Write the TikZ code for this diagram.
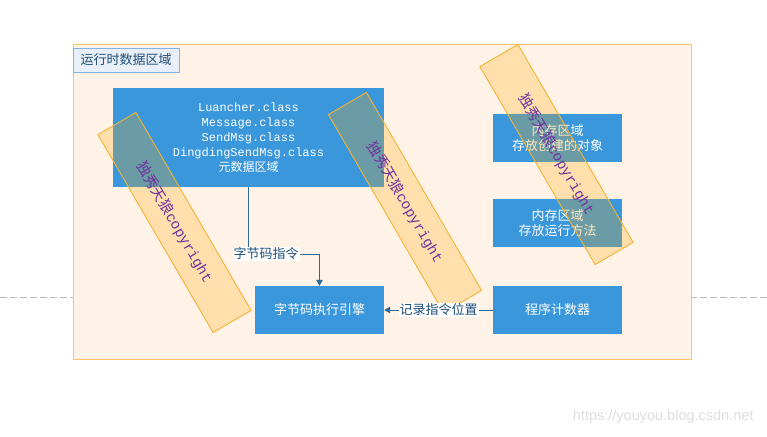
\documentclass[tikz,border=0pt]{standalone}
\usepackage{fontspec}
\setmainfont{Noto Sans CJK SC}
\setmonofont{Liberation Mono}
\newfontfamily\urlfont{Liberation Sans}
\usetikzlibrary{arrows.meta}
\definecolor{areafill}{HTML}{FFF2E6}
\definecolor{areadraw}{HTML}{FFC266}
\definecolor{boxblue}{HTML}{3A97DB}
\definecolor{titlefill}{HTML}{E8EFF8}
\definecolor{titledraw}{HTML}{7FB2E5}
\definecolor{darkblue}{HTML}{1F4E79}
\definecolor{linkblue}{HTML}{2B6A9B}
\definecolor{wmfill}{HTML}{FFAA00}
\definecolor{wmdraw}{HTML}{F5B335}
\definecolor{wmtext}{HTML}{7030A0}
\begin{document}
\begin{tikzpicture}[x=1pt,y=-1pt,
  area/.style={fill=areafill,draw=areadraw,line width=0.9pt,minimum width=618pt,minimum height=315pt,inner sep=0pt},
  titlebox/.style={fill=titlefill,draw=titledraw,line width=0.9pt,minimum width=106pt,minimum height=24pt,inner sep=0pt,text=darkblue,font=\fontsize{13}{15}\selectfont},
  bluebox/.style={fill=boxblue,text=white,minimum width=129pt,minimum height=48pt,inner sep=0pt,align=center,font=\fontsize{13}{15}\selectfont},
  conn/.style={draw=linkblue,line width=1pt,-{Triangle[length=6pt,width=6.5pt]}},
  edgelabel/.style={fill=white,text=darkblue,inner sep=1pt,font=\fontsize{13}{15}\selectfont},
  wmark/.style={fill=wmfill,fill opacity=0.25,draw=wmdraw,draw opacity=1,line width=0.9pt,minimum width=229pt,minimum height=44pt,inner sep=0pt,rotate=-59.8},
  wmtxt/.style={text=wmtext,rotate=-59.8,inner sep=0pt,font=\fontsize{14.5}{16}\selectfont}
]
\fill[white] (0,0) rectangle (767,436);
\useasboundingbox (0,0) rectangle (767,436);
\draw[draw=black!27,line width=0.8pt,dash pattern=on 7pt off 3pt] (0,297) -- (767,297);
\node[area] (area) at (382,201.5) {};
\node[titlebox] (title) at (126,60) {运行时数据区域};
\node[bluebox,minimum width=271pt,minimum height=99pt,font=\fontsize{12}{15}\selectfont] (meta) at (248.5,137.5)
  {\ttfamily Luancher.class\\\ttfamily Message.class\\\ttfamily SendMsg.class\\\ttfamily DingdingSendMsg.class\\元数据区域};
\node[bluebox] (obj) at (557.5,138) {内存区域\\存放创建的对象};
\node[bluebox] (meth) at (557.5,223) {内存区域\\存放运行方法};
\node[bluebox] (eng) at (319.5,310) {字节码执行引擎};
\node[bluebox] (pc) at (557.5,310) {程序计数器};
\coordinate (bend) at (248.5,254);
\draw[conn] (meta.south) -- (bend) -| (eng.north);
\draw[conn] (pc.west) -- (eng.east);
\node[wmark] (wm1) at (174.5,222.5) {};
\node[wmtxt] (wt1) at (wm1.center) {独秀天狼{\ttfamily copyright}};
\node[wmark] (wm2) at (405,202.5) {};
\node[wmtxt] (wt2) at (wm2.center) {独秀天狼{\ttfamily copyright}};
\node[wmark] (wm3) at (556.5,154.5) {};
\node[wmtxt] (wt3) at (wm3.center) {独秀天狼{\ttfamily copyright}};
\node[edgelabel] (lab1) at (266,254) {字节码指令};
\node[edgelabel] (lab2) at (438.5,310) {记录指令位置};
\node[anchor=east,text=black!13,font=\urlfont\fontsize{14.5}{16}\selectfont] (url) at (757,417) {https://youyou.blog.csdn.net};
\end{tikzpicture}
\end{document}
